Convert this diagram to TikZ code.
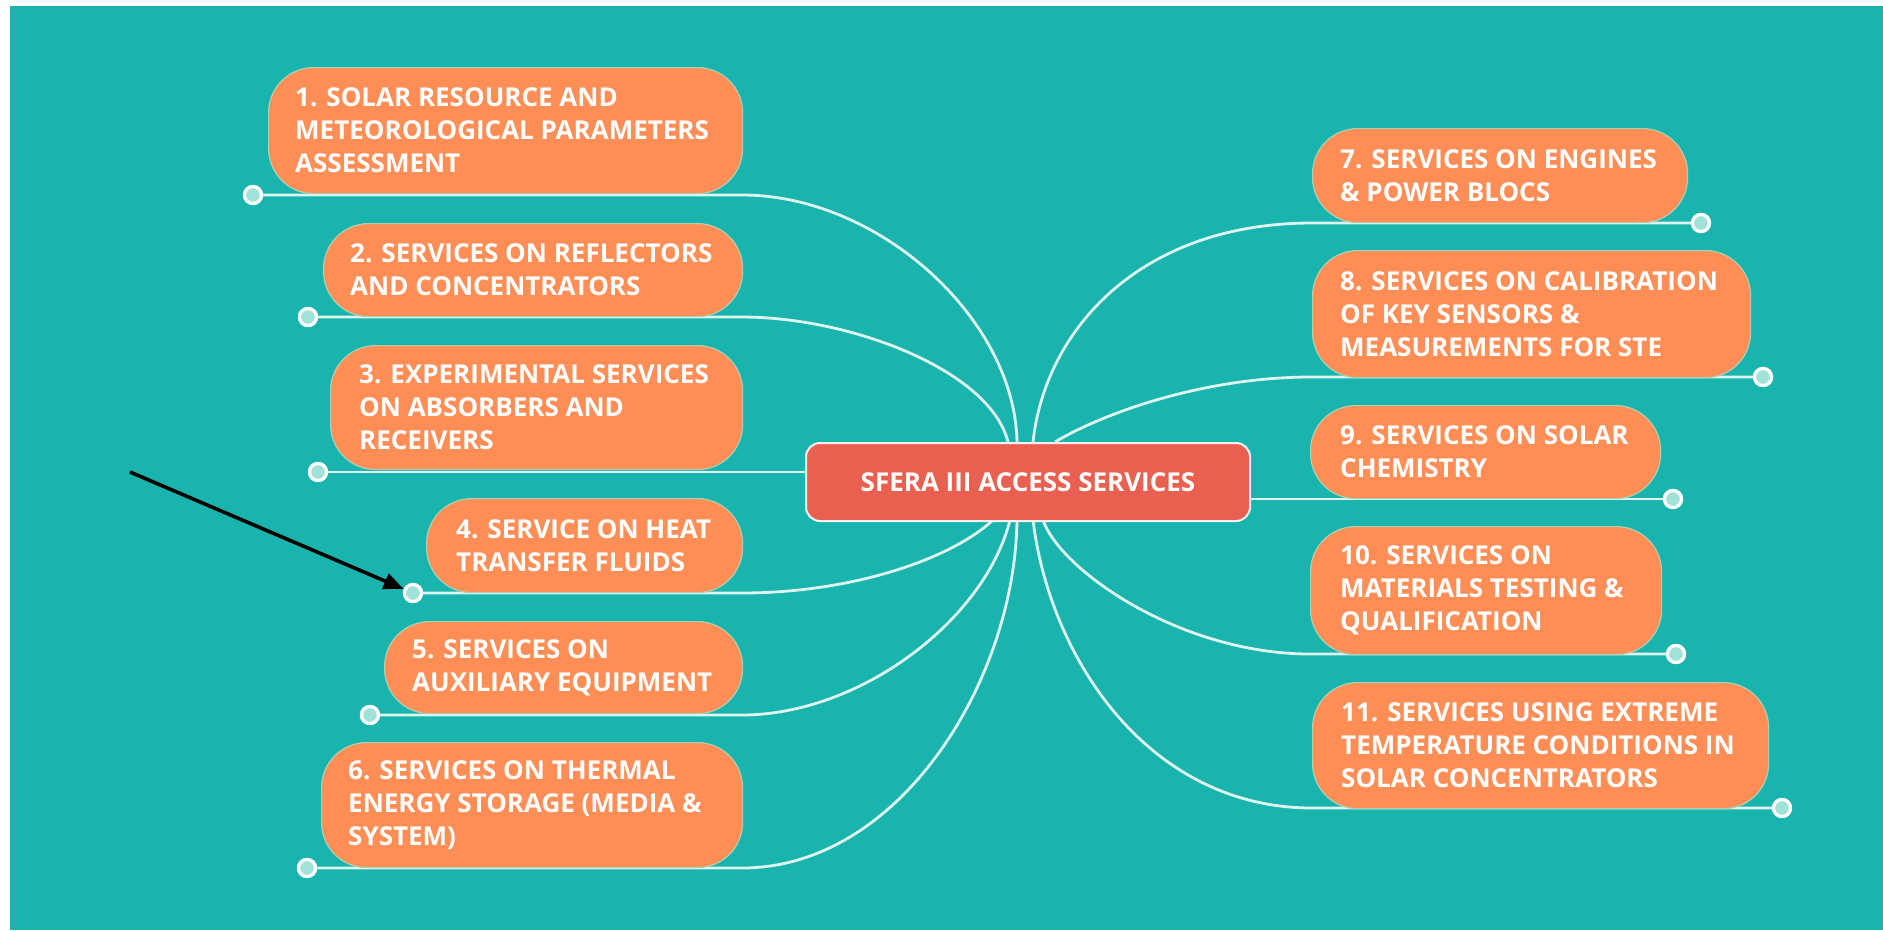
\documentclass[tikz,border=0pt]{standalone}
\usepackage{fontspec}
\setmainfont{Open Sans}
\usetikzlibrary{arrows.meta,calc}
\definecolor{bgteal}{RGB}{25,180,173}
\definecolor{orng}{RGB}{254,142,86}
\definecolor{cred}{RGB}{233,96,80}
\definecolor{linec}{RGB}{222,244,239}
\definecolor{edgec}{RGB}{176,206,176}
\definecolor{dotin}{RGB}{160,226,216}
\tikzset{
  obox/.style={draw=edgec, line width=1.2pt, fill=orng, rounded corners=45pt, anchor=north west, inner sep=0pt},
  otext/.style={text=white, font=\bfseries\fontsize{26}{33}\selectfont, align=left, inner sep=0pt, anchor=west},
  cbox/.style={draw=white!92!cred, line width=2pt, fill=cred, rounded corners=14pt, anchor=north west, inner sep=0pt},
  ctext/.style={text=white, font=\bfseries\fontsize{26}{33}\selectfont, inner sep=0pt},
  conn/.style={draw=linec, line width=2.8pt},
  enddot/.style={circle, draw=white, line width=3.2pt, fill=dotin, minimum size=17pt, inner sep=0pt},
  pointer/.style={draw=black, line width=3.6pt, -{Triangle[length=20pt,width=16pt]}}
}
\begin{document}
\begin{tikzpicture}[x=1pt,y=-1pt]
\useasboundingbox (0,0) rectangle (1883,930);
\fill[white] (0,0) rectangle (1883,930);
\fill[bgteal] (10,6) rectangle (1883,930);

% attachment points on the central box
\coordinate (c1) at (1017,442);
\coordinate (c2) at (1008,442);
\coordinate (c3) at (805,472);
\coordinate (c4) at (993,520);
\coordinate (c5) at (1010,520);
\coordinate (c6) at (1017,520);
\coordinate (c7) at (1033,442);
\coordinate (c8) at (1055,442);
\coordinate (c9) at (1249,499);
\coordinate (c10) at (1043,520);
\coordinate (c11) at (1033,520);

% end dots
\node[enddot] (d1) at (253,195) {};
\node[enddot] (d2) at (308,317) {};
\node[enddot] (d3) at (318,472) {};
\node[enddot] (d4) at (413,593) {};
\node[enddot] (d5) at (370,715) {};
\node[enddot] (d6) at (307,868) {};
\node[enddot] (d7) at (1701,223) {};
\node[enddot] (d8) at (1763,377) {};
\node[enddot] (d9) at (1673,499) {};
\node[enddot] (d10) at (1676,654) {};
\node[enddot] (d11) at (1782,808) {};

% connectors (behind boxes)
\draw[conn] (d1) -- (742,195) .. controls (880,195) and (1015,320) .. (c1);
\draw[conn] (d2) -- (742,317) .. controls (850,317) and (990,370) .. (c2);
\draw[conn] (d3) -- (c3);
\draw[conn] (d4) -- (742,593) .. controls (850,593) and (950,560) .. (c4);
\draw[conn] (d5) -- (742,715) .. controls (860,715) and (985,620) .. (c5);
\draw[conn] (d6) -- (742,868) .. controls (900,868) and (1015,680) .. (c6);
\draw[conn] (c7) .. controls (1045,330) and (1140,223) .. (1312,223) -- (d7);
\draw[conn] (c8) .. controls (1100,415) and (1200,377) .. (1312,377) -- (d8);
\draw[conn] (c9) -- (d9);
\draw[conn] (c10) .. controls (1060,570) and (1180,654) .. (1310,654) -- (d10);
\draw[conn] (c11) .. controls (1050,660) and (1150,808) .. (1312,808) -- (d11);

% redraw dots on top
\node[enddot] at (d1) {};
\node[enddot] at (d2) {};
\node[enddot] at (d3) {};
\node[enddot] at (d4) {};
\node[enddot] at (d5) {};
\node[enddot] at (d6) {};
\node[enddot] at (d7) {};
\node[enddot] at (d8) {};
\node[enddot] at (d9) {};
\node[enddot] at (d10) {};
\node[enddot] at (d11) {};

% left boxes
\node[obox, minimum width=474pt, minimum height=126pt] (b1) at (268,67) {};
\node[otext] (t1) at ([xshift=27pt]b1.west) {1. SOLAR RESOURCE AND\\METEOROLOGICAL PARAMETERS\\ASSESSMENT};
\node[obox, minimum width=419pt, minimum height=93pt] (b2) at (323,223) {};
\node[otext] (t2) at ([xshift=27pt]b2.west) {2. SERVICES ON REFLECTORS\\AND CONCENTRATORS};
\node[obox, minimum width=412pt, minimum height=124pt] (b3) at (330,345) {};
\node[otext] (t3) at ([xshift=29pt]b3.west) {3. EXPERIMENTAL SERVICES\\ON ABSORBERS AND\\RECEIVERS};
\node[obox, minimum width=316pt, minimum height=94pt] (b4) at (426,498) {};
\node[otext] (t4) at ([xshift=30pt]b4.west) {4. SERVICE ON HEAT\\TRANSFER FLUIDS};
\node[obox, minimum width=358pt, minimum height=92pt] (b5) at (384,621) {};
\node[otext] (t5) at ([xshift=28pt]b5.west) {5. SERVICES ON\\AUXILIARY EQUIPMENT};
\node[obox, minimum width=421pt, minimum height=125pt] (b6) at (321,742) {};
\node[otext] (t6) at ([xshift=27pt]b6.west) {6. SERVICES ON THERMAL\\ENERGY STORAGE (MEDIA \&\\SYSTEM)};

% right boxes
\node[obox, minimum width=375pt, minimum height=94pt] (b7) at (1312,128) {};
\node[otext] (t7) at ([xshift=28pt]b7.west) {7. SERVICES ON ENGINES\\\& POWER BLOCS};
\node[obox, minimum width=438pt, minimum height=127pt] (b8) at (1312,250) {};
\node[otext] (t8) at ([xshift=28pt]b8.west) {8. SERVICES ON CALIBRATION\\OF KEY SENSORS \&\\MEASUREMENTS FOR STE};
\node[obox, minimum width=350pt, minimum height=93pt] (b9) at (1310,405) {};
\node[otext] (t9) at ([xshift=30pt]b9.west) {9. SERVICES ON SOLAR\\CHEMISTRY};
\node[obox, minimum width=351pt, minimum height=128pt] (b10) at (1310,526) {};
\node[otext] (t10) at ([xshift=30pt]b10.west) {10. SERVICES ON\\MATERIALS TESTING \&\\QUALIFICATION};
\node[obox, minimum width=456pt, minimum height=126pt] (b11) at (1312,682) {};
\node[otext] (t11) at ([xshift=29pt]b11.west) {11. SERVICES USING EXTREME\\TEMPERATURE CONDITIONS IN\\SOLAR CONCENTRATORS};

% central box
\node[cbox, minimum width=444pt, minimum height=78pt] (c) at (805,442) {};
\node[ctext] (ct) at (c.center) {SFERA III ACCESS SERVICES};

% pointer arrow
\coordinate (a0) at (130,472);
\draw[pointer] (a0) -- (d4);
\end{tikzpicture}
\end{document}
